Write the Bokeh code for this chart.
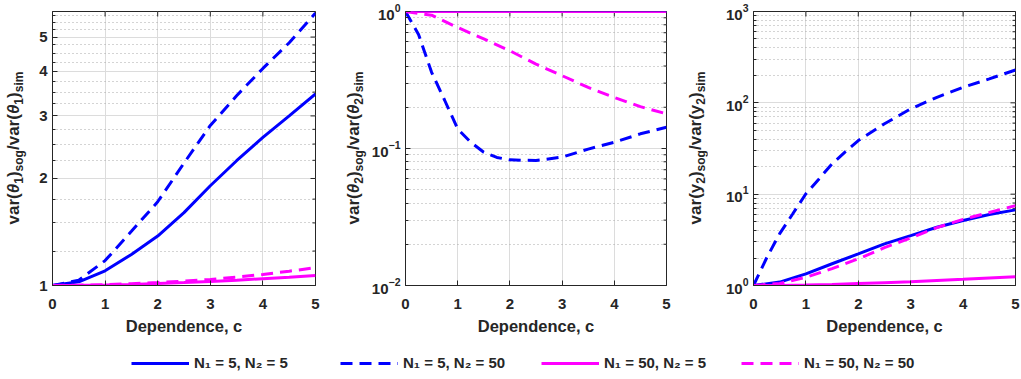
import math
from bokeh.plotting import figure
from bokeh.models import (Range1d, FixedTicker, Legend, LegendItem, PrintfTickFormatter, Div)
from bokeh.layouts import row, column
from bokeh.embed import file_html
from bokeh.resources import INLINE

# ---------------- data ----------------
c_half = [0, 0.5, 1, 1.5, 2, 2.5, 3, 3.5, 4, 4.5, 5]
c_fine = [0, 0.25, 0.5, 0.75, 1, 1.25, 1.5, 1.75, 2, 2.5, 3, 3.5, 4, 4.5, 5]

# panel 1: var(theta1)_sog / var(theta1)_sim
theta1_n5_5 = [1.0, 1.024, 1.10, 1.223, 1.378, 1.603, 1.908, 2.244, 2.61, 3.0, 3.46]
theta1_n5_50 = [1.0, 1.035, 1.175, 1.42, 1.72, 2.21, 2.82, 3.42, 4.08, 4.82, 5.84]
theta1_n50_5 = [1.0, 1.001, 1.003, 1.007, 1.013, 1.019, 1.027, 1.035, 1.045, 1.055, 1.067]
theta1_n50_50 = [1.0, 1.002, 1.006, 1.012, 1.02, 1.029, 1.04, 1.056, 1.074, 1.097, 1.122]

# panel 2: var(theta2)_sog / var(theta2)_sim
theta2_n5_5 = [1.0, 1.0, 1.0, 1.0, 1.0, 1.0, 1.0, 1.0, 1.0, 1.0, 1.0]
theta2_n5_50 = [1.0, 0.68, 0.36, 0.225, 0.139, 0.111, 0.094, 0.086, 0.0826, 0.0816,
                0.0865, 0.099, 0.111, 0.128, 0.143]
theta2_n50_5 = [1.0, 1.0, 1.0, 1.0, 1.0, 1.0, 1.0, 1.0, 1.0, 1.0, 1.0]
theta2_n50_50 = [1.0, 0.94, 0.764, 0.63, 0.517, 0.413, 0.34, 0.279, 0.236, 0.202, 0.179]

# panel 3: var(y2)_sog / var(y2)_sim
y2_n5_5 = [1.0, 1.09, 1.34, 1.73, 2.22, 2.86, 3.52, 4.34, 5.14, 5.98, 6.73]
y2_n5_50 = [1.0, 2.0, 3.7, 6.1, 10.1, 14.7, 21.5, 29.0, 38.6, 59.0, 86.0, 115.0, 148.0, 183.0, 229.0]
y2_n50_5 = [1.0, 1.003, 1.01, 1.025, 1.05, 1.075, 1.10, 1.135, 1.17, 1.21, 1.25]
y2_n50_50 = [1.0, 1.05, 1.23, 1.53, 1.96, 2.6, 3.32, 4.3, 5.3, 6.3, 7.5]

x_ticks = [0, 1, 2, 3, 4, 5]
p1_ticks = [1, 2, 3, 4, 5]
p1_minor = [1.25, 1.5, 1.75, 2.25, 2.5, 2.75, 3.25, 3.5, 3.75, 4.25, 4.5, 4.75, 5.25, 5.5, 5.75]
p2_ticks = [0.01, 0.1, 1]
p2_minor = [k * 0.01 for k in range(2, 10)] + [k * 0.1 for k in range(2, 10)]
p3_ticks = [1, 10, 100, 1000]
p3_minor = [k * 1 for k in range(2, 10)] + [k * 10 for k in range(2, 10)] + [k * 100 for k in range(2, 10)]

legend_labels = ["N\u2081 = 5, N\u2082 = 5", "N\u2081 = 5, N\u2082 = 50",
                 "N\u2081 = 50, N\u2082 = 5", "N\u2081 = 50, N\u2082 = 50"]
x_label = "Dependence, c"
# y labels: (base, subscript, outer subscript) for numerator and denominator
ylabel1 = [("<i>\u03b8</i>", "1", "sog"), ("<i>\u03b8</i>", "1", "sim")]
ylabel2 = [("<i>\u03b8</i>", "2", "sog"), ("<i>\u03b8</i>", "2", "sim")]
ylabel3 = [("y", "2", "sog"), ("y", "2", "sim")]

# ---------------- styling ----------------
BLUE = "#0000FF"
MAGENTA = "#FF00FF"
DARK = "#262626"
FONT = "Liberation Sans"
TICK_SIZE = 15
YL_MAIN = 17
YL_SUB = 12
LW = 3
DASH = "12 7"

PLOT_H = 340
LEG_H = 38
TOP_B = 11
BOT_B = 55


def make_ylabel(width, parts, x_center):
    sub = f'<sub style="font-size:{YL_SUB}px">%s</sub>'
    html_parts = []
    for base, s1, s2 in parts:
        html_parts.append("var(" + base + (sub % s1) + ")" + (sub % s2))
    inner = "/".join(html_parts)
    y_center = (TOP_B + (PLOT_H - BOT_B)) / 2.0
    html = (f'<div style="position:relative;width:{width}px;height:{PLOT_H}px;overflow:visible;">'
            f'<div style="position:absolute;left:{x_center}px;top:{y_center}px;'
            f'transform:translate(-50%,-50%) rotate(-90deg);white-space:nowrap;'
            f'font-family:\'{FONT}\';font-weight:bold;font-size:{YL_MAIN}px;line-height:1;'
            f'color:{DARK};">{inner}</div></div>')
    return Div(text=html, width=width, height=PLOT_H, margin=0)


def make_panel(width, bl, br, yr, yticks, yminor, formatter):
    p = figure(width=width, height=PLOT_H, x_range=Range1d(0, 5), y_range=Range1d(*yr),
               y_axis_type="log", output_backend="svg", toolbar_location=None,
               min_border_left=bl, min_border_right=br, min_border_top=TOP_B,
               min_border_bottom=BOT_B)
    p.outline_line_color = DARK
    p.outline_line_width = 1
    p.background_fill_color = "white"
    p.border_fill_color = "white"

    xt = FixedTicker(ticks=x_ticks)
    yt = FixedTicker(ticks=yticks, minor_ticks=yminor)
    ax = p.xaxis[0]
    ay = p.yaxis[0]
    ax.ticker = xt
    ay.ticker = yt
    if formatter is not None:
        ay.formatter = formatter
    for a in (ax, ay):
        a.axis_line_color = DARK
        a.major_tick_line_color = DARK
        a.minor_tick_line_color = DARK
        a.major_tick_in = 5
        a.major_tick_out = 0
        a.minor_tick_in = 3
        a.minor_tick_out = 0
        a.major_label_text_font = FONT
        a.major_label_text_font_style = "bold"
        a.major_label_text_font_size = f"{TICK_SIZE}px"
        a.major_label_text_color = DARK
    ax.minor_tick_in = 0
    ax.major_label_standoff = 13
    ay.major_label_standoff = 5
    ax.axis_label = x_label
    ax.axis_label_text_font = FONT
    ax.axis_label_text_font_style = "bold"
    ax.axis_label_text_font_size = "16.5px"
    ax.axis_label_text_color = DARK
    ax.axis_label_standoff = 5

    p.xgrid.ticker = xt
    p.ygrid.ticker = yt
    p.xgrid.grid_line_color = "#dcdcdc"
    p.ygrid.grid_line_color = "#dcdcdc"
    p.ygrid.minor_grid_line_color = "#a8a8a8"
    p.ygrid.minor_grid_line_dash = "1 3"

    # mirrored tick marks on the top and right edges of the box (clipped half = inward tick)
    p.scatter(x=x_ticks, y=[yr[1]] * len(x_ticks), marker="dash", size=10, angle=math.pi / 2,
              line_color=DARK, line_width=1)
    p.scatter(x=[5] * len(yticks), y=yticks, marker="dash", size=10,
              line_color=DARK, line_width=1)
    p.scatter(x=[5] * len(yminor), y=yminor, marker="dash", size=6,
              line_color=DARK, line_width=1)
    return p


def draw_series(p, xs, ys, color, dashed):
    p.line(xs, ys, line_color=color, line_width=LW, line_dash=DASH if dashed else "solid",
           line_cap="butt")


lab1 = make_ylabel(30, ylabel1, 15)
p1 = make_panel(313, 22, 28, (1, 5.9), p1_ticks, p1_minor, PrintfTickFormatter(format="%d"))
draw_series(p1, c_half, theta1_n5_5, BLUE, False)
draw_series(p1, c_half, theta1_n5_50, BLUE, True)
draw_series(p1, c_half, theta1_n50_5, MAGENTA, False)
draw_series(p1, c_half, theta1_n50_50, MAGENTA, True)

lab2 = make_ylabel(25, ylabel2, 12)
p2 = make_panel(315, 34, 17, (0.01, 1), p2_ticks, p2_minor, None)
draw_series(p2, c_half, theta2_n5_5, BLUE, False)
draw_series(p2, c_fine, theta2_n5_50, BLUE, True)
draw_series(p2, c_half, theta2_n50_5, MAGENTA, False)
draw_series(p2, c_half, theta2_n50_50, MAGENTA, True)

lab3 = make_ylabel(24, ylabel3, 14)
p3 = make_panel(313, 46, 5, (1, 1000), p3_ticks, p3_minor, None)
draw_series(p3, c_half, y2_n5_5, BLUE, False)
draw_series(p3, c_fine, y2_n5_50, BLUE, True)
draw_series(p3, c_half, y2_n50_5, MAGENTA, False)
draw_series(p3, c_half, y2_n50_50, MAGENTA, True)

# ---------------- legend strip ----------------
leg = figure(width=1020, height=LEG_H, x_range=Range1d(0, 1), y_range=Range1d(0, 1),
             x_axis_type=None, y_axis_type=None, output_backend="svg", toolbar_location=None,
             min_border=0, outline_line_color=None)
leg_styles = [(BLUE, False), (BLUE, True), (MAGENTA, False), (MAGENTA, True)]
leg_x = [131, 340, 541, 741]
for lab, (col, dashed), lx in zip(legend_labels, leg_styles, leg_x):
    r = leg.line(x=[0.0], y=[-5.0], line_color=col, line_width=LW,
                 line_dash=DASH if dashed else "solid")
    lg = Legend(items=[LegendItem(label=lab, renderers=[r])], location=(lx, 7),
                orientation="horizontal", glyph_width=58, glyph_height=16, label_height=16,
                label_standoff=5, padding=0, margin=0, spacing=0, border_line_color=None,
                background_fill_alpha=0, label_text_font=FONT, label_text_font_style="bold",
                label_text_font_size="15px", label_text_color=DARK)
    leg.add_layout(lg)

layout = column(row(lab1, p1, lab2, p2, lab3, p3), leg)
open("out.html", "w").write(file_html(layout, INLINE))
